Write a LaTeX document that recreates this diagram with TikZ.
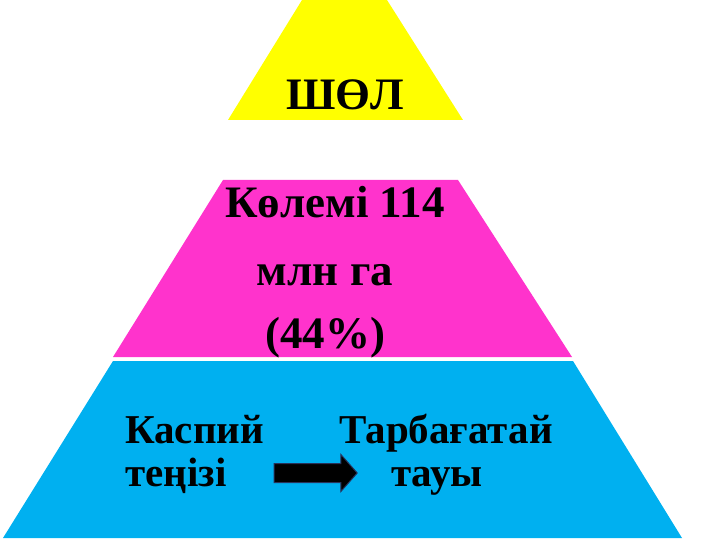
\documentclass[tikz,border=0pt]{standalone}
\usepackage{fontspec}
\setmainfont{Liberation Serif}
\usepackage{tikz}
\usetikzlibrary{shapes.arrows}
\definecolor{yel}{RGB}{255,255,0}
\definecolor{pnk}{RGB}{255,51,204}
\definecolor{sky}{RGB}{0,176,240}
\definecolor{edge}{RGB}{40,50,90}

\begin{document}
\begin{tikzpicture}[x=1pt,y=-1pt,
	big/.style={font=\fontsize{45}{54}\selectfont\bfseries,inner sep=0pt},
	mid/.style={font=\fontsize{41}{48}\selectfont\bfseries,inner sep=0pt},
	blockarrow/.style={single arrow,fill=black,draw=edge,line width=1pt,
		minimum height=83pt,inner xsep=0pt,inner ysep=9pt,
		single arrow head extend=9pt,single arrow tip angle=97}]
			\useasboundingbox (0,0) rectangle (720,540);
			% three layers of the pyramid
			\fill[yel] (302,0)--(387,0)--(463,120)--(228,120)--cycle;
			\fill[pnk] (223,180)--(458,180)--(572,357)--(113,357)--cycle;
			\fill[sky] (113,361)--(573,361)--(682,538)--(3,538)--cycle;
			% texts
			\node[big,anchor=base] (top) at (345,110) {ШӨЛ};
			\node[big,anchor=base] (area) at (335,218) {Көлемі 114};
			\node[big,anchor=base] (mln) at (325,285) {млн га};
			\node[big,anchor=base] (pct) at (325,348) {(44\%)};
			\node[mid,anchor=base west] (casp) at (125,443) {Каспий};
			\node[mid,anchor=base west] (sea) at (125,486) {теңізі};
			\node[mid,anchor=base] (tarb) at (446,443) {Тарбағатай};
			\node[mid,anchor=base] (mount) at (437,486) {тауы};
			\node[blockarrow] (arr) at (311.5,473) {};
		\end{tikzpicture}
\end{document}
